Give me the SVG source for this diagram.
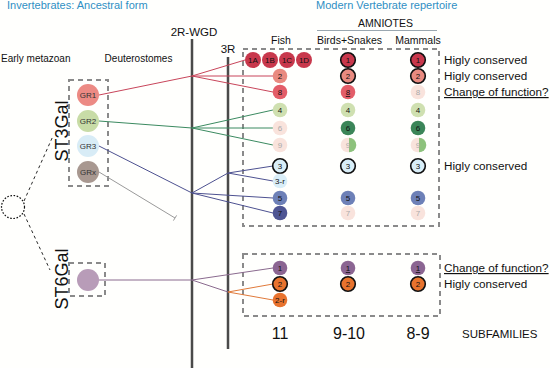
<svg xmlns="http://www.w3.org/2000/svg" width="550" height="368" viewBox="0 0 550 368">
<style>
text{font-family:"Liberation Sans",Arial,sans-serif;fill:#111}
.hdr{font-size:11px;fill:#2f8fc4}
.col{font-size:10.5px;text-anchor:middle}
.lab{font-size:11.7px}
.u{text-decoration:underline}
.n{font-size:8px;text-anchor:middle}
.gr{font-size:8px;text-anchor:middle;fill:#333}
.fd{fill:#f9e3dc}
.fdt{fill:#aaa}
.box{fill:none;stroke:#8a8a8a;stroke-width:2;stroke-dasharray:5,4}
.bd{stroke:#111;stroke-width:1.6}
.vl{stroke:#4a4a4a;stroke-width:2.5}
.cnt{font-size:16px;text-anchor:middle}
.c{fill:none;stroke-width:1}
</style>
<rect width="550" height="368" fill="#fffffd"/>
<!-- headers -->
<text class="hdr" x="7" y="9">Invertebrates: Ancestral form</text>
<text class="hdr" x="316" y="9">Modern Vertebrate repertoire</text>
<text class="col" x="385.5" y="27">AMNIOTES</text>
<line x1="317" y1="30.5" x2="437" y2="30.5" stroke="#9aa7b0" stroke-width="1"/>
<text class="col" x="281" y="44">Fish</text>
<text class="col" x="349.5" y="44">Birds+Snakes</text>
<text class="col" x="418" y="44">Mammals</text>
<text x="194" y="36" style="font-size:11.5px;text-anchor:middle">2R-WGD</text>
<text x="228" y="53" style="font-size:11.5px;text-anchor:middle">3R</text>
<text x="1" y="62" style="font-size:10px">Early metazoan</text>
<text x="138.5" y="62" style="font-size:10px;text-anchor:middle">Deuterostomes</text>

<!-- vertical duplication lines -->
<line class="vl" x1="192" y1="39" x2="192" y2="368"/>
<line class="vl" x1="228" y1="57" x2="228" y2="349"/>

<!-- dashed boxes -->
<rect class="box" x="69" y="80" width="39" height="106"/>
<rect class="box" x="69" y="263" width="36" height="33"/>
<rect class="box" x="243" y="49" width="196" height="177"/>
<rect class="box" x="243" y="254" width="197" height="62"/>

<!-- connectors -->
<g id="connectors">
<g stroke="#c8455a" class="c">
<line x1="99" y1="95" x2="192" y2="76"/>
<line x1="192" y1="76" x2="245" y2="60"/>
<line x1="192" y1="76" x2="273" y2="76"/>
<line x1="192" y1="76" x2="273" y2="92"/>
</g>
<g stroke="#3b8a60" class="c">
<line x1="99" y1="121" x2="192" y2="128"/>
<line x1="192" y1="128" x2="273" y2="110"/>
<line x1="192" y1="128" x2="273" y2="128"/>
<line x1="192" y1="128" x2="273" y2="145"/>
</g>
<g stroke="#4d5190" class="c">
<line x1="99" y1="146" x2="192" y2="193"/>
<line x1="192" y1="193" x2="228" y2="173"/>
<line x1="228" y1="173" x2="273" y2="166"/>
<line x1="228" y1="173" x2="273" y2="181"/>
<line x1="192" y1="193" x2="273" y2="198"/>
<line x1="192" y1="193" x2="273" y2="213"/>
</g>
<g stroke="#9a9a9a" class="c">
<line x1="99" y1="172" x2="175" y2="218"/>
<line x1="173.4" y1="220.6" x2="176.6" y2="215.4"/>
</g>
<g stroke="#8a6a8e" class="c">
<line x1="99" y1="280" x2="192" y2="280"/>
<line x1="192" y1="280" x2="273" y2="268"/>
<line x1="192" y1="280" x2="228" y2="292"/>
</g>
<g stroke="#e07a3a" class="c">
<line x1="228" y1="292" x2="273" y2="284"/>
<line x1="228" y1="292" x2="273" y2="300"/>
</g>
<g stroke="#111" stroke-width="0.9" stroke-dasharray="3,3" fill="none">
<line x1="24" y1="201" x2="53" y2="136"/>
<line x1="24" y1="214" x2="50" y2="270"/>
</g>
</g>

<!-- ancestral -->
<g id="ancestor"><circle cx="13" cy="207" r="11.5" fill="none" stroke="#111" stroke-width="1.2" stroke-dasharray="1.6,1.6"/></g>
<g id="ST3Gal-label"><text transform="translate(68,131) rotate(-90)" style="font-size:18px;text-anchor:middle">ST3Gal</text></g>
<g id="ST6Gal-label"><text transform="translate(68,279) rotate(-90)" style="font-size:18px;text-anchor:middle">ST6Gal</text></g>
<g id="GR1"><circle cx="88" cy="95" r="11" fill="#ec8a84"/><text class="gr" x="88" y="98">GR1</text></g>
<g id="GR2"><circle cx="88" cy="121" r="11" fill="#c8dca7"/><text class="gr" x="88" y="124">GR2</text></g>
<g id="GR3"><circle cx="88" cy="146" r="11" fill="#d8ecf6"/><text class="gr" x="88" y="149">GR3</text></g>
<g id="GRx"><circle cx="88" cy="172" r="11" fill="#a89890"/><text class="gr" x="88" y="175">GRx</text></g>
<g id="ST6anc"><circle cx="88" cy="280" r="11" fill="#b89cb8"/></g>

<!-- Fish column -->
<g id="f1A"><circle cx="253" cy="60" r="8" fill="#c8384c"/><text class="n" x="253" y="63">1A</text></g>
<g id="f1B"><circle cx="270" cy="60" r="8" fill="#c8384c"/><text class="n" x="270" y="63">1B</text></g>
<g id="f1C"><circle cx="287" cy="60" r="8" fill="#c8384c"/><text class="n" x="287" y="63">1C</text></g>
<g id="f1D"><circle cx="304" cy="60" r="8" fill="#c8384c"/><text class="n" x="304" y="63">1D</text></g>
<g id="f2"><circle cx="280" cy="76" r="7.3" fill="#e98a80"/><text class="n" x="280" y="79">2</text></g>
<g id="f8"><circle cx="280" cy="92" r="7.3" fill="#e35d68"/><text class="n" x="280" y="95">8</text></g>
<g id="f4"><circle cx="280" cy="110" r="7.3" fill="#cfe0b0"/><text class="n" x="280" y="113">4</text></g>
<g id="f6"><circle cx="280" cy="128" r="7.3" class="fd"/><text class="n fdt" x="280" y="131">6</text></g>
<g id="f9"><circle cx="280" cy="145" r="7.3" class="fd"/><text class="n fdt" x="280" y="148">9</text></g>
<g id="f3"><circle cx="280" cy="166" r="7.3" fill="#d9eef8" class="bd"/><text class="n" x="280" y="169">3</text></g>
<g id="f3r"><circle cx="280" cy="181" r="7.3" fill="#d9eef8"/><text class="n" x="280" y="184">3-r</text></g>
<g id="f5"><circle cx="280" cy="198" r="7.3" fill="#6d80b7"/><text class="n" x="280" y="201">5</text></g>
<g id="f7"><circle cx="280" cy="213" r="7.3" fill="#4e5593"/><text class="n" x="280" y="216">7</text></g>
<g id="f6_1"><circle cx="280" cy="268" r="7.3" fill="#8b6592"/><text class="n" x="280" y="271">1</text></g>
<g id="f6_2"><circle cx="280" cy="284" r="7.3" fill="#e8732e" class="bd"/><text class="n" x="280" y="287">2</text></g>
<g id="f6_2r"><circle cx="280" cy="300" r="7.3" fill="#e8732e"/><text class="n" x="280" y="303">2-r</text></g>

<!-- Birds+Snakes column -->
<g id="b1"><circle cx="348" cy="60" r="7.3" fill="#c8384c" class="bd"/><text class="n" x="348" y="63">1</text></g>
<g id="b2"><circle cx="348" cy="76" r="7.3" fill="#e98a80" class="bd"/><text class="n" x="348" y="79">2</text></g>
<g id="b8"><circle cx="348" cy="92" r="7.3" fill="#e35d68"/><text class="n u" x="348" y="95">8</text></g>
<g id="b4"><circle cx="348" cy="110" r="7.3" fill="#cfe0b0"/><text class="n" x="348" y="113">4</text></g>
<g id="b6"><circle cx="348" cy="128" r="7.3" fill="#3b8558"/><text class="n" x="348" y="131">6</text></g>
<g id="b9"><circle cx="348" cy="145" r="7.3" class="fd"/><path d="M349,137.7 A7.3,7.3 0 0 1 349,152.3 Z" fill="#8dc27c"/><text class="n fdt" x="348" y="148">9</text></g>
<g id="b3"><circle cx="348" cy="166" r="7.3" fill="#d9eef8" class="bd"/><text class="n" x="348" y="169">3</text></g>
<g id="b5"><circle cx="348" cy="198" r="7.3" fill="#6d80b7"/><text class="n" x="348" y="201">5</text></g>
<g id="b7"><circle cx="348" cy="213" r="7.3" class="fd"/><text class="n fdt" x="348" y="216">7</text></g>
<g id="b6_1"><circle cx="348" cy="268" r="7.3" fill="#8b6592"/><text class="n u" x="348" y="271">1</text></g>
<g id="b6_2"><circle cx="348" cy="284" r="7.3" fill="#e8732e" class="bd"/><text class="n" x="348" y="287">2</text></g>

<!-- Mammals column -->
<g id="m1"><circle cx="418" cy="60" r="7.3" fill="#c8384c" class="bd"/><text class="n" x="418" y="63">1</text></g>
<g id="m2"><circle cx="418" cy="76" r="7.3" fill="#e98a80" class="bd"/><text class="n" x="418" y="79">2</text></g>
<g id="m8"><circle cx="418" cy="92" r="7.3" class="fd"/><text class="n fdt" x="418" y="95">8</text></g>
<g id="m4"><circle cx="418" cy="110" r="7.3" fill="#cfe0b0"/><text class="n" x="418" y="113">4</text></g>
<g id="m6"><circle cx="418" cy="128" r="7.3" fill="#3b8558"/><text class="n" x="418" y="131">6</text></g>
<g id="m9"><circle cx="418" cy="145" r="7.3" class="fd"/><path d="M419,137.7 A7.3,7.3 0 0 1 419,152.3 Z" fill="#8dc27c"/><text class="n fdt" x="418" y="148">9</text></g>
<g id="m3"><circle cx="418" cy="166" r="7.3" fill="#d9eef8" class="bd"/><text class="n" x="418" y="169">3</text></g>
<g id="m5"><circle cx="418" cy="198" r="7.3" fill="#6d80b7"/><text class="n" x="418" y="201">5</text></g>
<g id="m7"><circle cx="418" cy="213" r="7.3" class="fd"/><text class="n fdt" x="418" y="216">7</text></g>
<g id="m6_1"><circle cx="418" cy="268" r="7.3" fill="#8b6592"/><text class="n u" x="418" y="271">1</text></g>
<g id="m6_2"><circle cx="418" cy="284" r="7.3" fill="#e8732e" class="bd"/><text class="n" x="418" y="287">2</text></g>

<!-- right labels -->
<text class="lab" x="444" y="64">Higly conserved</text>
<text class="lab" x="444" y="80">Higly conserved</text>
<text class="lab u" x="444" y="96">Change of function?</text>
<text class="lab" x="444" y="170">Higly conserved</text>
<text class="lab u" x="444" y="272">Change of function?</text>
<text class="lab" x="444" y="288">Higly conserved</text>

<!-- counts -->
<text class="cnt" x="280" y="339">11</text>
<text class="cnt" x="349" y="339">9-10</text>
<text class="cnt" x="418" y="339">8-9</text>
<text x="462" y="338" style="font-size:11.5px">SUBFAMILIES</text>
</svg>
